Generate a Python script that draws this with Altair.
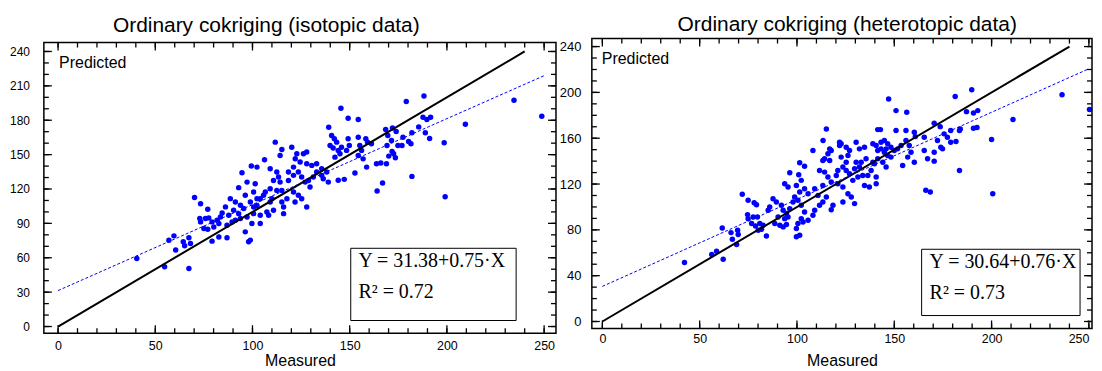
import altair as alt
import pandas as pd

# ---------------- text ----------------
titles = ["Ordinary cokriging (isotopic data)", "Ordinary cokriging (heterotopic data)"]
x_title = "Measured"
y_title = "Predicted"
eq_iso = ["Y = 31.38+0.75\u00b7X", "R\u00b2 = 0.72"]
eq_het = ["Y = 30.64+0.76\u00b7X", "R\u00b2 = 0.73"]

# regression (intercept, slope) shown in the boxes
fit_iso = (31.38, 0.75)
fit_het = (30.64, 0.76)

# 1:1 reference line and fit line extents
one_to_one = [0, 240]
fit_x = [0, 250]

# tick values
x_major = [0, 50, 100, 150, 200, 250]
x_minor = list(range(0, 251, 10))
y_major_iso = [0, 30, 60, 90, 120, 150, 180, 210, 240]
y_major_het = [0, 40, 80, 120, 160, 200, 240]
y_minor = list(range(0, 241, 10))

# ---------------- data: isotopic ----------------
iso_measured = [
    179.1, 188.2, 234.5, 248.8, 209.5, 187.7, 189.7, 191.6, 185.5, 182.0, 188.9, 191.1, 198.6, 177.4, 180.3,
    181.5, 168.5, 172.0, 173.9, 169.6, 171.5, 169.2, 174.8, 176.9, 171.8, 172.6, 173.5, 170.1, 166.0, 168.9,
    166.9, 182.0, 199.1,
    145.5, 149.2, 154.4, 139.2, 111.7, 120.2, 115.1, 114.2, 106.2, 99.4, 102.3, 94.6, 140.7, 142.1, 143.3,
    139.9, 141.5, 144.1, 145.0, 142.4, 145.8, 149.2, 149.8, 148.4, 154.4, 158.3, 159.2, 161.2, 155.2, 156.1,
    154.4, 156.9, 158.7, 152.7, 163.8, 164.1, 144.1, 147.2,
    97.2, 101.4, 100.6, 96.3, 98.9, 102.3, 104.0, 106.6, 109.1, 110.0, 112.5, 115.1, 116.0, 110.8, 107.4,
    104.0, 100.6, 97.2, 114.2, 118.5, 121.1, 123.6, 125.3, 127.1, 129.6, 128.8, 131.3, 133.0, 130.5, 127.9,
    124.5, 122.0, 122.8, 126.2, 127.9, 133.0, 135.6, 136.4, 139.0, 138.2, 135.6, 121.1, 123.6, 125.3, 121.9,
    117.7, 127.9, 116.0, 109.1, 112.5, 110.8, 121.1, 118.5, 115.1,
    40.5, 54.8, 67.3, 57.0, 59.6, 60.5, 64.4, 67.3, 65.1, 68.1, 70.2, 73.3, 77.0, 72.9, 73.3,
    75.8, 77.5, 79.2, 81.8, 82.7, 75.0, 77.0, 80.1, 79.2, 82.7, 86.9, 84.4, 86.1, 83.5, 88.6,
    91.2, 93.8, 90.3, 87.8, 92.9, 95.5, 89.5, 86.9, 91.2, 93.8, 99.7, 104.0, 96.3, 98.9, 98.0,
    92.9, 100.6, 102.3, 105.7, 109.1, 108.3, 113.4,
]
iso_predicted = [
    196.3, 201.2, 197.4, 183.5, 176.5, 182.6, 180.6, 182.6, 174.2, 169.0, 169.0, 164.1, 160.3, 165.2, 161.5,
    159.4, 171.9, 173.3, 170.2, 166.7, 162.3, 158.0, 158.0, 158.0, 152.8, 150.7, 147.2, 148.7, 142.6, 142.0,
    125.2, 131.0, 113.3,
    190.4, 181.7, 180.6, 173.9, 160.9, 156.5, 154.5, 149.3, 145.5, 140.0, 139.1, 134.2, 166.7, 163.8, 160.9,
    158.0, 155.7, 153.7, 150.7, 147.8, 156.5, 163.8, 158.0, 153.7, 165.2, 163.8, 160.9, 159.4, 158.0, 153.7,
    149.3, 146.3, 139.1, 133.9, 142.0, 118.3, 127.6, 128.4,
    126.0, 124.6, 117.4, 114.5, 108.6, 105.7, 111.5, 117.4, 120.2, 111.5, 118.8, 108.6, 104.3, 101.4, 100.0,
    97.1, 98.5, 95.6, 126.0, 127.5, 131.9, 134.8, 130.4, 126.0, 121.7, 127.5, 130.4, 134.8, 140.6, 142.0,
    143.5, 146.4, 150.7, 150.7, 152.2, 142.0, 137.7, 129.0, 126.0, 134.8, 131.9, 117.4, 114.5, 111.5, 108.6,
    111.5, 104.3, 98.5, 137.7, 134.8, 127.5, 139.1, 134.8, 118.8,
    59.4, 52.1, 50.7, 75.3, 79.1, 66.7, 73.9, 77.4, 70.4, 72.4, 112.5, 107.2, 102.3, 94.2, 91.3,
    94.2, 94.8, 91.3, 92.8, 89.9, 85.5, 84.9, 86.9, 74.5, 78.2, 77.4, 99.1, 104.4, 95.6, 111.6,
    108.7, 105.8, 101.4, 97.1, 98.5, 102.9, 91.3, 88.4, 92.8, 94.2, 89.9, 89.9, 82.6, 75.4, 73.9,
    121.2, 104.3, 111.6, 114.5, 108.7, 97.1, 130.5,
]

# ---------------- data: heterotopic ----------------
het_measured = [
    42.2, 56.2, 58.7, 62.1, 61.6, 66.1, 69.5, 69.8, 66.8, 69.0, 71.9, 74.9, 78.0, 79.2, 74.6,
    74.9, 77.5, 79.7, 76.7, 78.7, 80.9, 82.6, 80.1, 81.8, 84.3,
    85.2, 86.0, 87.7, 89.4, 92.0, 92.9, 90.3, 88.6, 91.2, 93.7, 95.4, 94.6, 96.3, 98.0, 98.8,
    100.5, 102.2, 99.7, 102.2, 103.9, 105.7, 101.4, 103.9, 102.2, 100.5, 103.1, 105.7, 108.2, 109.1, 111.6,
    113.3, 110.8, 109.1, 113.3, 114.2, 111.6, 113.3, 101.4, 103.9, 96.3, 100.9, 95.4, 93.7, 99.7, 101.4,
    99.7, 94.6, 92.9,
    147.1, 150.9, 156.4, 141.5, 142.9, 150.9, 156.0, 160.3, 160.8, 165.4, 170.5, 173.6, 179.0, 175.6, 177.3,
    179.0, 172.2, 173.9, 170.5, 174.8, 165.4, 167.1, 170.5, 160.3, 156.9, 158.6, 157.7, 156.0, 154.3, 166.2,
    168.5,
    139.0, 140.7, 143.2, 144.9, 146.6, 148.3, 145.8, 143.2, 141.5, 144.9, 146.6, 148.3, 150.0, 151.7, 153.5,
    141.5, 144.1, 145.8, 139.8, 138.1, 136.4, 140.7, 134.7, 137.2, 140.7, 139.0, 135.5, 133.0, 132.1, 129.6,
    130.4, 126.2, 125.3, 122.7, 123.6, 121.0, 120.2, 125.3, 127.0, 128.7, 131.3, 133.8, 122.7, 125.3, 127.0,
    132.1, 134.7, 130.4, 121.9, 117.6, 115.9, 114.2, 116.8, 115.9, 117.6, 121.0, 123.6, 126.2, 127.9, 129.6,
    123.6, 118.5, 115.1, 117.6, 113.4, 116.8, 108.2, 115.1, 121.9,
    211.0, 236.2, 250.3, 189.8, 181.3, 187.1, 190.7, 192.9, 190.7, 192.5, 200.0, 181.7, 183.5, 183.9, 183.5,
    200.6,
]
het_predicted = [
    51.5, 58.5, 61.4, 54.4, 81.7, 77.6, 79.7, 75.9, 71.8, 67.2, 111.0, 105.8, 103.7, 102.0, 93.3,
    89.8, 91.2, 91.2, 85.5, 83.4, 85.5, 84.0, 79.7, 80.5, 74.7,
    97.1, 100.0, 107.2, 104.3, 101.4, 97.1, 91.3, 85.5, 84.0, 89.8, 91.3, 94.2, 98.5, 104.3, 108.7,
    105.8, 101.4, 118.8, 123.2, 115.9, 111.6, 113.0, 95.6, 89.8, 85.5, 86.9, 88.4, 92.7, 97.1, 101.4,
    104.3, 110.1, 115.9, 118.8, 130.4, 131.9, 140.6, 138.5, 135.6, 129.8, 128.1, 117.4, 120.3, 81.1, 75.3,
    73.9, 84.6, 82.6,
    194.2, 184.1, 182.6, 167.5, 167.5, 166.7, 166.7, 165.2, 161.4, 160.9, 173.0, 170.1, 166.7, 163.8, 160.9,
    156.5, 158.0, 152.2, 147.8, 150.7, 149.3, 142.0, 140.0, 139.1, 143.5, 147.8, 153.6, 158.0, 136.2, 114.5,
    113.0,
    155.1, 153.6, 156.5, 158.0, 155.1, 152.2, 150.7, 150.7, 149.3, 147.8, 144.9, 143.5, 149.3, 150.7, 153.6,
    142.0, 139.1, 134.8, 137.7, 131.9, 127.5, 126.1, 118.8, 117.4, 120.3, 139.1, 142.0, 139.1, 134.8, 133.3,
    139.1, 144.9, 139.1, 143.5, 134.8, 131.9, 127.5, 131.9, 129.0, 123.2, 126.1, 127.5, 155.1, 152.2, 149.3,
    150.7, 152.2, 156.5, 153.6, 149.3, 146.4, 142.0, 140.6, 126.1, 121.7, 120.3, 117.4, 111.6, 108.7, 102.9,
    104.3, 101.4, 108.7, 97.6, 158.0, 150.7, 149.3, 168.1, 156.5,
    176.3, 198.0, 185.0, 202.3, 196.5, 183.2, 182.0, 184.1, 168.7, 169.3, 158.9, 157.1, 166.7, 168.1, 131.9,
    111.6,
]

SANS = "Liberation Sans"
SERIF = "Liberation Serif"
BLUE = "#0000ff"
MAJOR = 8
MINOR = 5


def panel(mx, py, fit, title, eq, x_dom, y_dom, w, h, top, bottom, y_major, ylab_size, ylab_pad,
          xlab_pad, xtitle_pad, title_x, title_y, box, eq_pos, pred_pos):
    """top/bottom: pixel rows of the frame inside a view of height h."""
    pts = pd.DataFrame({"m": mx, "p": py})
    diag = pd.DataFrame({"m": one_to_one, "p": one_to_one})
    fitdf = pd.DataFrame({"m": fit_x, "p": [fit[0] + fit[1] * v for v in fit_x]})
    one = pd.DataFrame({"k": [0]})
    xmaj = pd.DataFrame({"t": x_major})
    xmin = pd.DataFrame({"t": x_minor})
    ymaj = pd.DataFrame({"t": y_major})
    ymin = pd.DataFrame({"t": y_minor})
    xs = alt.Scale(domain=x_dom, nice=False, zero=False)
    ys = alt.Scale(domain=y_dom, nice=False, zero=False, range=[bottom, top])

    x_lab = alt.Axis(orient="bottom", values=x_major, ticks=False, tickSize=0, domain=False, grid=False,
                     labelFont=SANS, labelFontSize=12.5, labelColor="black", labelPadding=xlab_pad,
                     labelFlush=6, labelOverlap=False, title=x_title, titleFont=SANS,
                     titleFontSize=16, titleFontWeight="normal", titleColor="black",
                     titlePadding=xtitle_pad, minExtent=0)
    y_lab = alt.Axis(orient="left", values=y_major, ticks=False, tickSize=0, domain=False, grid=False,
                     labelFont=SANS, labelFontSize=ylab_size, labelColor="black", labelPadding=ylab_pad,
                     labelFlush=False, labelOverlap=False, title=None, minExtent=0)

    def X(field):
        return alt.X(field, scale=xs, axis=None)

    def Y(field):
        return alt.Y(field, scale=ys, axis=None)

    points = alt.Chart(pts).mark_circle(size=30, color=BLUE, opacity=1).encode(
        x=alt.X("m:Q", scale=xs, axis=x_lab),
        y=alt.Y("p:Q", scale=ys, axis=y_lab),
    )
    diag_line = alt.Chart(diag).mark_line(color="black", strokeWidth=2).encode(x=X("m:Q"), y=Y("p:Q"))
    fit_line = alt.Chart(fitdf).mark_line(color=BLUE, strokeWidth=1, strokeDash=[3, 2]).encode(
        x=X("m:Q"), y=Y("p:Q"))

    def yticks(df, size):
        base = alt.Chart(df).mark_rule(color="black", strokeWidth=1.3)
        l = base.encode(y=Y("t:Q"), x=alt.value(0), x2=alt.value(size))
        r = base.encode(y=Y("t:Q"), x=alt.value(w - size), x2=alt.value(w))
        return [l, r]

    def xticks(df, size):
        base = alt.Chart(df).mark_rule(color="black", strokeWidth=1.3)
        t = base.encode(x=X("t:Q"), y=alt.value(top), y2=alt.value(top + size))
        b = base.encode(x=X("t:Q"), y=alt.value(bottom - size), y2=alt.value(bottom))
        return [t, b]

    ticks = yticks(ymaj, MAJOR) + yticks(ymin, MINOR) + xticks(xmaj, MAJOR) + xticks(xmin, MINOR)

    box_rect = alt.Chart(one).mark_rect(fill="white", stroke="black", strokeWidth=1).encode(
        x=alt.value(box[0]), x2=alt.value(box[1]), y=alt.value(box[2]), y2=alt.value(box[3])
    )
    eq1 = alt.Chart(one).mark_text(font=SERIF, fontSize=20, align="left", baseline="alphabetic",
                                   color="black").encode(
        x=alt.value(eq_pos[0]), y=alt.value(eq_pos[1]), text=alt.value(eq[0]))
    eq2 = alt.Chart(one).mark_text(font=SERIF, fontSize=20, align="left", baseline="alphabetic",
                                   color="black").encode(
        x=alt.value(eq_pos[0]), y=alt.value(eq_pos[2]), text=alt.value(eq[1]))
    pred = alt.Chart(one).mark_text(font=SANS, fontSize=16, align="left", baseline="alphabetic",
                                    color="black").encode(
        x=alt.value(pred_pos[0]), y=alt.value(pred_pos[1]), text=alt.value(y_title))
    ttl = alt.Chart(one).mark_text(font=SANS, fontSize=21, align="left", baseline="alphabetic",
                                   color="black").encode(
        x=alt.value(title_x), y=alt.value(title_y), text=alt.value(title))
    frame = alt.Chart(one).mark_rect(fillOpacity=0, stroke="black", strokeWidth=1.5).encode(
        x=alt.value(0), x2=alt.value(w), y=alt.value(top), y2=alt.value(bottom))

    return alt.layer(points, diag_line, fit_line, *ticks, box_rect, eq1, eq2, pred, ttl, frame).properties(
        width=w, height=h,
    ).resolve_axis(x="independent", y="independent")


left = panel(iso_measured, iso_predicted, fit_iso, titles[0], eq_iso,
             [-7.3, 256.1], [-5.8, 247.8], 514, 296, 4, 295.7, y_major_iso, 12, 14.5,
             6, 1, 69.3, -7, (308, 474, 210.5, 283), (315.7, 229, 260.7), (15.3, 30))
right = panel(het_measured, het_predicted, fit_het, titles[1], eq_het,
              [-5.4, 251.6], [-6.1, 247.0], 502, 291, 0, 291, y_major_het, 13, 11,
              4, 8, 86, -7.7, (331, 490, 211.5, 278), (339, 230.7, 261.7), (10, 25.7))

chart = alt.hconcat(left, right, spacing=0).properties(
    padding={"left": 0, "top": 4, "right": 0, "bottom": 0}
).configure_view(stroke="transparent")

chart.save("out.html", embed_options={"renderer": "svg", "actions": False})
